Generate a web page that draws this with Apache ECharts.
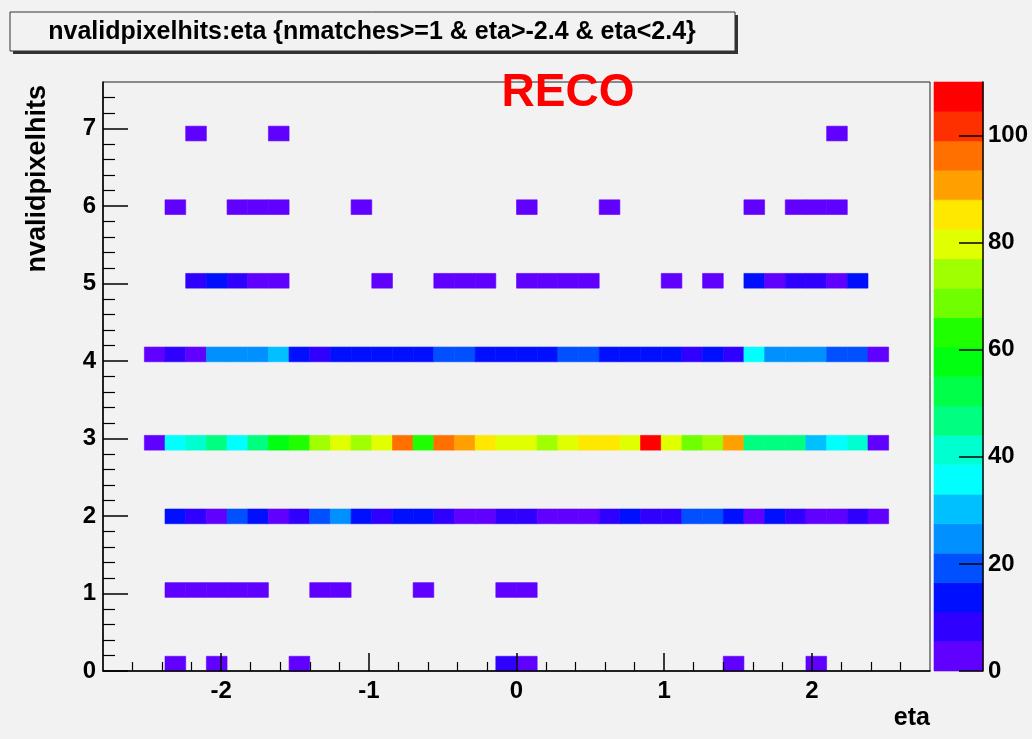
<!DOCTYPE html>
<html>
<head>
<meta charset="utf-8">
<script src="https://cdn.jsdelivr.net/npm/echarts@6/dist/echarts.min.js"></script>
<style>
html,body{margin:0;padding:0;background:#f2f2f2;}
#chart{width:1032px;height:739px;}
</style>
</head>
<body>
<div id="chart"></div>
<script>
// ---- histogram binning (ROOT TH2 automatic binning) ----
const etaMin = -2.8, etaMax = 2.8, etaBinWidth = 0.14;
const hitsMin = 0, hitsMax = 7.6, hitsBinWidth = 0.19;
const firstFilledEtaBin = 2; // index 0 of the arrays below = eta bin [-2.52,-2.38]
const zMax = 110;

// ---- bin contents per nvalidpixelhits value (36 eta bins, null = empty) ----
const hits0 = [null,2,null,1,null,null,null,2,null,null,null,null,null,null,null,null,null,7,3,null,null,null,null,null,null,null,null,null,2,null,null,null,1,null,null,null];
const hits1 = [null,2,3,2,2,3,null,null,2,1,null,null,null,2,null,null,null,3,2,null,null,null,null,null,null,null,null,null,null,null,null,null,null,null,null,null];
const hits2 = [null,13,8,4,18,14,5,9,19,25,14,8,13,15,9,5,4,8,9,5,4,5,8,14,9,8,19,18,13,4,14,9,5,4,8,5];
const hits3 = [3,36,41,46,37,48,58,63,74,80,75,81,96,64,97,91,86,80,81,74,79,86,87,81,110,80,69,75,92,47,46,48,30,37,42,4];
const hits4 = [4,9,5,26,24,27,31,14,10,15,13,14,16,15,20,19,13,15,14,16,19,21,15,13,16,14,9,15,10,36,26,25,27,20,18,4];
const hits5 = [null,null,7,12,8,3,2,null,null,null,null,2,null,null,2,3,2,null,3,2,3,2,null,null,null,2,null,2,null,12,3,8,9,3,12,null];
const hits6 = [null,2,null,null,1,2,2,null,null,null,1,null,null,null,null,null,null,null,1,null,null,null,2,null,null,null,null,null,null,1,null,2,1,2,null,null];
const hits7 = [null,null,1,null,null,null,1,null,null,null,null,null,null,null,null,null,null,null,null,null,null,null,null,null,null,null,null,null,null,null,null,null,null,1,null,null];
const rows = [hits0, hits1, hits2, hits3, hits4, hits5, hits6, hits7];

// ---- axis ticks / labels ----
const xMajorTicks = [-2, -1, 0, 1, 2];
const xMinorTicks = [-2.6,-2.4,-2.2,-1.8,-1.6,-1.4,-1.2,-0.8,-0.6,-0.4,-0.2,0.2,0.4,0.6,0.8,1.2,1.4,1.6,1.8,2.2,2.4,2.6];
const yMajorTicks = [0,1,2,3,4,5,6,7];
const yMinorTicks = [0.2,0.4,0.6,0.8,1.2,1.4,1.6,1.8,2.2,2.4,2.6,2.8,3.2,3.4,3.6,3.8,4.2,4.4,4.6,4.8,5.2,5.4,5.6,5.8,6.2,6.4,6.6,6.8,7.2,7.4];
const zTicks = [0, 20, 40, 60, 80, 100];

// ---- ROOT rainbow palette, 20 contour levels (bottom -> top) ----
const palette = ['#6000ff','#3000ff','#0010ff','#0050ff','#0090ff','#00c0ff','#00ffff','#00ffd0','#00ff80','#00ff48',
                 '#00ff10','#20ff00','#70ff00','#a0ff00','#e0ff00','#ffe800','#ffa000','#ff7000','#ff3000','#ff0000'];

function colorFor(v) {
  let k = Math.floor(v / zMax * palette.length);
  if (k < 0) k = 0;
  if (k > palette.length - 1) k = palette.length - 1;
  return palette[k];
}

// build cell table [etaLo, hitsLo, etaHi, hitsHi, count]
const cells = [];
rows.forEach(function (row, nhits) {
  const yb = Math.floor(nhits / hitsBinWidth + 1e-9);
  const ylo = hitsMin + yb * hitsBinWidth;
  row.forEach(function (c, i) {
    if (c === null) return;
    const xlo = etaMin + (i + firstFilledEtaBin) * etaBinWidth;
    cells.push([xlo, ylo, xlo + etaBinWidth, ylo + hitsBinWidth, c]);
  });
});
const bands = palette.map(function (c, k) {
  return [k * zMax / palette.length, (k + 1) * zMax / palette.length, k];
});

const FONT = 'Liberation Sans, Arial, Helvetica, sans-serif';
const labelStyle = { fontFamily: FONT, fontWeight: 'bold', fontSize: 24, color: '#000' };

const chart = echarts.init(document.getElementById('chart'), null, { renderer: 'canvas' });
chart.setOption({
  backgroundColor: '#f2f2f2',
  animation: false,
  grid: [
    { left: 103, top: 82, right: 102, bottom: 68, show: true, borderColor: '#222', borderWidth: 1, backgroundColor: 'transparent' },
    { left: 934, top: 82, width: 49, bottom: 68, show: false }
  ],
  xAxis: [
    { type: 'value', gridIndex: 0, min: etaMin, max: etaMax, position: 'bottom', z: 5,
      axisLine: { show: true, onZero: false, lineStyle: { color: '#000', width: 1.5 } },
      axisTick: { show: true, inside: true, length: 18, customValues: xMajorTicks, lineStyle: { color: '#000', width: 1.5 } },
      axisLabel: Object.assign({ customValues: xMajorTicks, margin: 8 }, labelStyle),
      splitLine: { show: false } },
    { type: 'value', gridIndex: 0, min: etaMin, max: etaMax, position: 'bottom', z: 5,
      axisLine: { show: false, onZero: false },
      axisTick: { show: true, inside: true, length: 9, customValues: xMinorTicks, lineStyle: { color: '#000', width: 1.2 } },
      axisLabel: { show: false }, splitLine: { show: false } },
    { type: 'value', gridIndex: 1, min: 0, max: 1, show: false }
  ],
  yAxis: [
    { type: 'value', gridIndex: 0, min: hitsMin, max: hitsMax, position: 'left', z: 5,
      axisLine: { show: true, onZero: false, lineStyle: { color: '#000', width: 1.5 } },
      axisTick: { show: true, inside: true, length: 25, customValues: yMajorTicks, lineStyle: { color: '#000', width: 1.5 } },
      axisLabel: Object.assign({ customValues: yMajorTicks, margin: 7 }, labelStyle),
      splitLine: { show: false } },
    { type: 'value', gridIndex: 0, min: hitsMin, max: hitsMax, position: 'left', z: 5,
      axisLine: { show: false, onZero: false },
      axisTick: { show: true, inside: true, length: 12, customValues: yMinorTicks, lineStyle: { color: '#000', width: 1.2 } },
      axisLabel: { show: false }, splitLine: { show: false } },
    { type: 'value', gridIndex: 1, min: 0, max: zMax, position: 'right', z: 5,
      axisLine: { show: true, onZero: false, lineStyle: { color: '#000', width: 1.5 } },
      axisTick: { show: true, inside: true, length: 24, customValues: zTicks, lineStyle: { color: '#000', width: 1.5 } },
      axisLabel: Object.assign({ customValues: zTicks, margin: 5 }, labelStyle),
      splitLine: { show: false } }
  ],
  series: [
    { type: 'custom', name: 'nvalidpixelhits:eta', xAxisIndex: 0, yAxisIndex: 0, data: cells, z: 2,
      encode: { x: [0, 2], y: [1, 3] },
      renderItem: function (params, api) {
        const p0 = api.coord([api.value(0), api.value(1)]);
        const p1 = api.coord([api.value(2), api.value(3)]);
        const col = colorFor(api.value(4));
        return { type: 'rect',
          shape: { x: p0[0], y: p1[1], width: p1[0] - p0[0], height: p0[1] - p1[1] },
          style: { fill: col, stroke: col, lineWidth: 0.6 } };
      } },
    { type: 'custom', name: 'palette', xAxisIndex: 2, yAxisIndex: 2, data: bands, z: 2,
      encode: { y: [0, 1] },
      renderItem: function (params, api) {
        const p0 = api.coord([0, api.value(0)]);
        const p1 = api.coord([1, api.value(1)]);
        const col = palette[api.value(2)];
        return { type: 'rect',
          shape: { x: p0[0], y: p1[1], width: p1[0] - p0[0], height: p0[1] - p1[1] },
          style: { fill: col, stroke: col, lineWidth: 0.6 } };
      } }
  ],
  graphic: [
    { type: 'rect', z: 10, shape: { x: 13, y: 15, width: 725, height: 39 }, style: { fill: '#333' } },
    { type: 'rect', z: 11, shape: { x: 10, y: 12, width: 725, height: 39 }, style: { fill: '#f2f2f2', stroke: '#333', lineWidth: 1 } },
    { type: 'text', z: 12, x: 372, y: 32,
      style: { text: 'nvalidpixelhits:eta {nmatches>=1 & eta>-2.4 & eta<2.4}', fontFamily: FONT, fontWeight: 'bold', fontSize: 25,
               fill: '#000', align: 'center', verticalAlign: 'middle' } },
    { type: 'text', z: 12, x: 568, y: 93,
      style: { text: 'RECO', fontFamily: FONT, fontWeight: 'bold', fontSize: 46, fill: '#ff0000', align: 'center', verticalAlign: 'middle' } },
    { type: 'text', z: 12, x: 38, y: 85, rotation: Math.PI / 2,
      style: { text: 'nvalidpixelhits', fontFamily: FONT, fontWeight: 'bold', fontSize: 27, fill: '#000', align: 'right', verticalAlign: 'middle' } },
    { type: 'text', z: 12, x: 930, y: 718,
      style: { text: 'eta', fontFamily: FONT, fontWeight: 'bold', fontSize: 25, fill: '#000', align: 'right', verticalAlign: 'middle' } }
  ]
});
</script>
</body>
</html>
